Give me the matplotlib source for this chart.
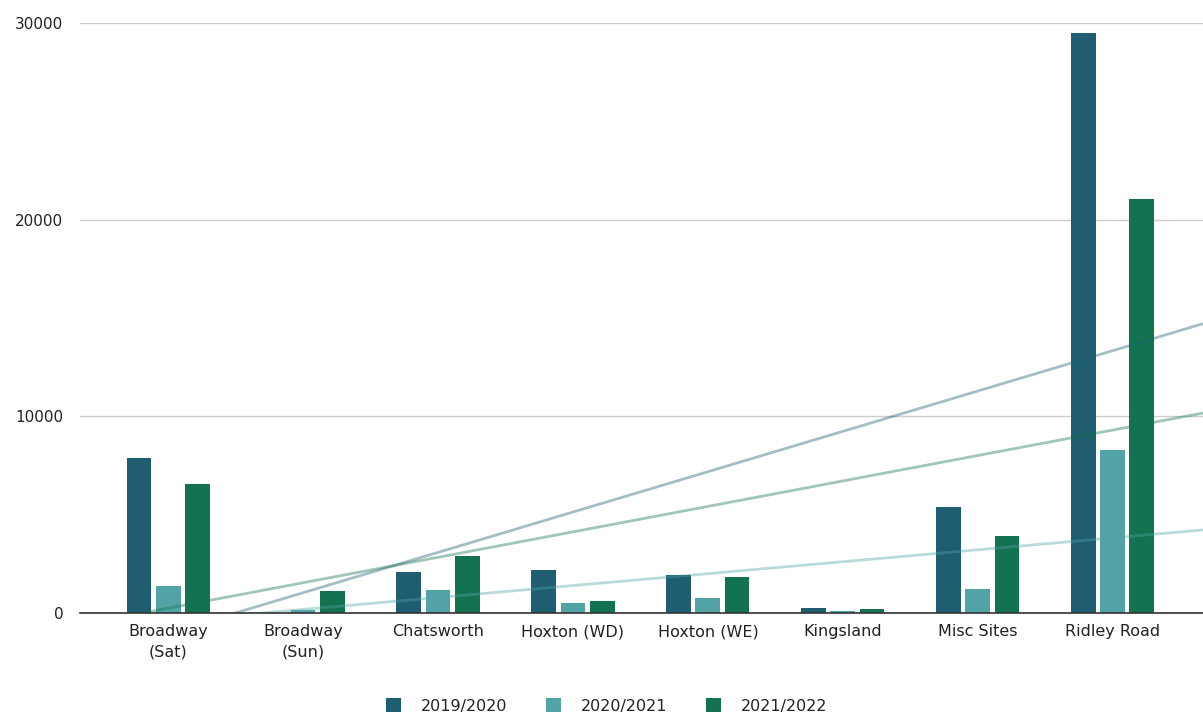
import matplotlib
matplotlib.use("Agg")
import matplotlib.pyplot as plt
import numpy as np
from matplotlib.patches import Patch

plt.rcParams["font.family"] = ["DejaVu Sans"]

markets = ["Broadway\n(Sat)", "Broadway\n(Sun)", "Chatsworth", "Hoxton (WD)",
           "Hoxton (WE)", "Kingsland", "Misc Sites", "Ridley Road"]
series_names = ["2019/2020", "2020/2021", "2021/2022"]
vals_1920 = [7900, 0, 2100, 2190, 1930, 270, 5400, 29490]
vals_2021 = [1350, 150, 1170, 525, 780, 120, 1200, 8290]
vals_2122 = [6550, 1100, 2900, 625, 1845, 190, 3930, 21050]
colors = ["#1f5e70", "#52a3a5", "#13724f"]


def main():
    fig = plt.figure(figsize=(12.03, 7.18), dpi=100)
    ax = fig.add_axes([80 / 1203, 105 / 718, 1 - 80 / 1203, (613 - 23) / 718])

    x = np.arange(len(markets))
    width = 0.185
    offsets = [-0.215, 0.0, 0.215]
    all_vals = [vals_1920, vals_2021, vals_2122]

    for vals, off, c in zip(all_vals, offsets, colors):
        ax.bar(x + off, vals, width=width, color=c, zorder=2)

    # linear trendlines, one per season
    xlim = (-0.652, 7.667)
    xt = np.linspace(xlim[0], xlim[1], 50)
    for vals, c in zip(all_vals, colors):
        k, b = np.polyfit(x, vals, 1)
        ax.plot(xt, k * xt + b, color=c, alpha=0.4, linewidth=2, zorder=3)

    ax.set_xlim(*xlim)
    ax.set_ylim(0, 30000)
    ax.set_yticks([0, 10000, 20000, 30000])
    ax.set_xticks(x)
    ax.set_xticklabels(markets, fontsize=11.5, color="#222222", linespacing=1.45)
    ax.tick_params(axis="y", labelsize=11, labelcolor="#222222", length=0, pad=12)
    ax.tick_params(axis="x", length=0, pad=8)
    ax.grid(axis="y", color="#cccccc", linewidth=1, zorder=0)
    ax.set_axisbelow(True)
    for name, spine in ax.spines.items():
        spine.set_visible(name == "bottom")
    ax.spines["bottom"].set_color("#333333")
    ax.spines["bottom"].set_linewidth(1.2)
    ax.spines["bottom"].set_zorder(4)

    handles = [Patch(facecolor=c, edgecolor="none") for c in colors]
    fig.legend(handles, series_names, loc="center", bbox_to_anchor=(607 / 1203, 1 - 706 / 718),
               ncol=3, frameon=False, fontsize=11.5, handlelength=0.9, handleheight=0.9,
               columnspacing=2.4, handletextpad=1.3, labelcolor="#222222")

    fig.savefig("out.png", dpi=100)
    plt.close(fig)


if __name__ == "__main__":
    main()
